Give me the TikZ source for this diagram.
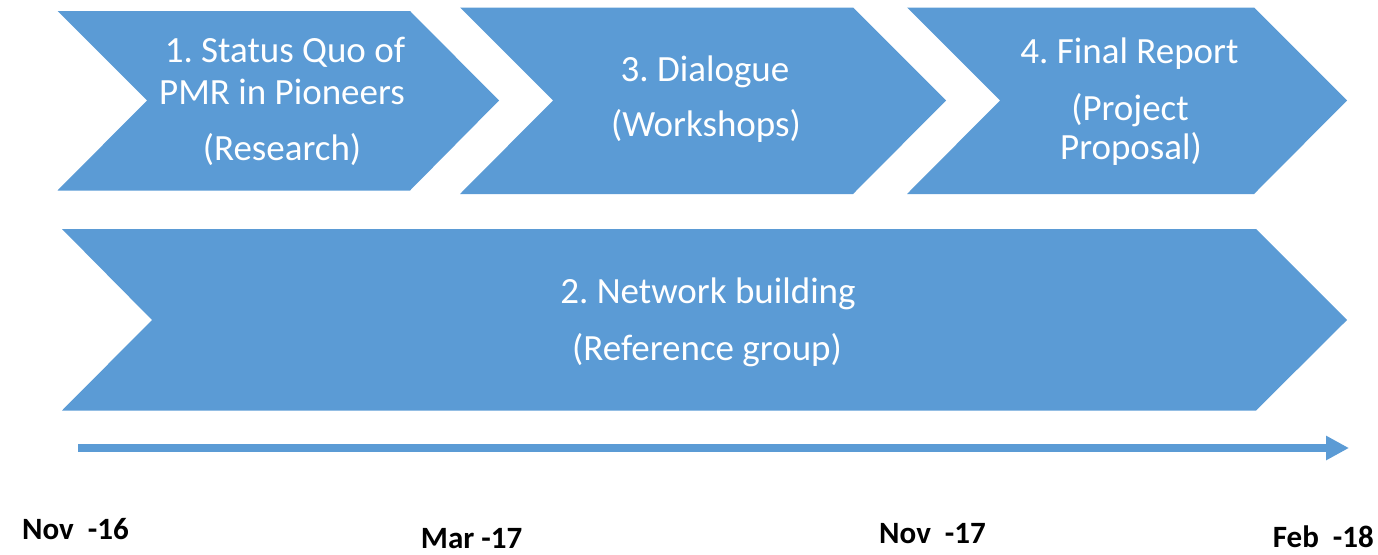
\documentclass[tikz,border=0pt]{standalone}
\usepackage{fontspec}
\setmainfont{Carlito}
\usetikzlibrary{arrows.meta}
\definecolor{chevblue}{HTML}{5B9BD5}
\frenchspacing
\begin{document}
\begin{tikzpicture}[x=1pt,y=-1pt,
  chev/.style={fill=chevblue,draw=none},
  lbl/.style={text=white,font=\frenchspacing\fontsize{37}{44}\selectfont,anchor=base,inner sep=0pt},
  datelbl/.style={text=black,font=\frenchspacing\bfseries\fontsize{31}{37}\selectfont,anchor=base west,inner sep=0pt},
  timeline/.style={draw=chevblue,line width=7.5pt,-{Triangle[length=23pt,width=23pt]}}]
\useasboundingbox (0,0) rectangle (1378,554);
% chevrons
\path[chev] (57.5,11) -- (410,11) -- (499,100.5) -- (410,190.5) -- (57.5,190.5) -- (147,100.5) -- cycle;
\path[chev] (460,7.5) -- (853,7.5) -- (946,100.5) -- (853,194) -- (460,194) -- (553,100.5) -- cycle;
\path[chev] (907,7.5) -- (1254,7.5) -- (1347,100.5) -- (1254,194) -- (907,194) -- (1000,100.5) -- cycle;
\path[chev] (62,229) -- (1256,229) -- (1347,320) -- (1256,410.5) -- (62,410.5) -- (152,320) -- cycle;
% labels
\node[lbl] (t1a) at (285,62.7) {1. Status Quo of};
\node[lbl] (t1b) at (282,104) {PMR in Pioneers};
\node[lbl] (t1c) at (282,160) {(Research)};
\node[lbl] (t3a) at (705,81.7) {3. Dialogue};
\node[lbl] (t3b) at (706,136.7) {(Workshops)};
\node[lbl] (t4a) at (1129.5,63.3) {4. Final Report};
\node[lbl] (t4b) at (1130,120) {(Project};
\node[lbl] (t4c) at (1131,159.3) {Proposal)};
\node[lbl] (t2a) at (708,303) {2. Network building};
\node[lbl] (t2b) at (707,360) {(Reference group)};
% timeline
\coordinate (tlstart) at (78,448);
\coordinate (tlend) at (1349,448);
\draw[timeline] (tlstart) -- (tlend);
% dates
\node[datelbl] (d1) at (22,539.3) {Nov~~-16};
\node[datelbl] (d2) at (420.7,548.5) {Mar -17};
\node[datelbl] (d3) at (879,543.3) {Nov~~-17};
\node[datelbl] (d4) at (1272.7,547.3) {Feb~~-18};
\end{tikzpicture}
\end{document}
